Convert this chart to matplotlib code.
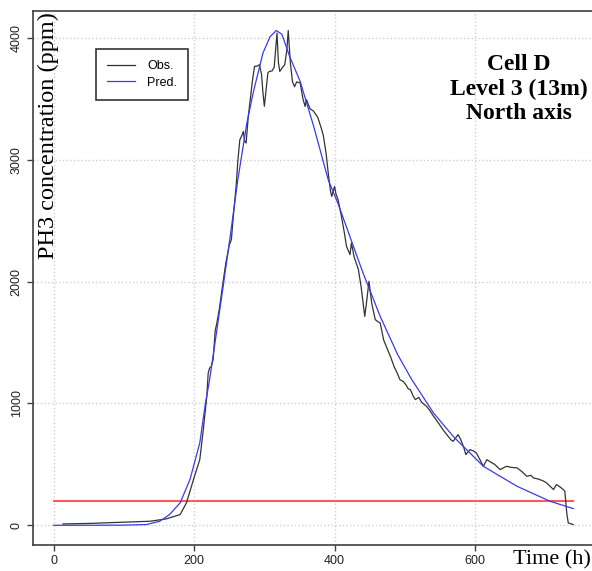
import numpy as np
import matplotlib
matplotlib.use('Agg')
import matplotlib.pyplot as plt

# observed PH3 concentration (ppm) vs time (h)
obs_t = [13, 50, 100, 137, 160, 180, 189, 199, 208, 213, 218, 220, 222, 224, 227, 230,
         232, 236, 240, 245, 250, 253, 256, 260, 262, 265, 268, 270, 272, 274, 277, 280,
         283, 286, 290, 293, 296, 298, 300, 302, 305, 307, 311, 314, 318, 320, 322, 326,
         329, 332, 334, 337, 340, 343, 346, 351, 355, 358, 360, 365, 370, 376, 381, 384,
         388, 391, 394, 396, 400, 402, 405, 410, 414, 417, 420, 422, 424, 428, 434, 438,
         443, 446, 449, 453, 458, 462, 465, 470, 475, 480, 485, 490, 493, 498, 502, 505,
         508, 512, 515, 520, 524, 528, 531, 536, 541, 548, 555, 562, 566, 569, 573, 576,
         580, 584, 587, 590, 593, 598, 602, 607, 612, 617, 622, 628, 636, 640, 645, 652,
         660, 667, 674, 680, 683, 690, 697, 702, 707, 712, 716, 720, 726, 728, 731, 733, 740]
obs_c = [11, 15, 25, 33, 52, 88, 184, 375, 539, 785, 1059, 1250, 1290, 1300, 1360, 1600,
         1650, 1780, 1950, 2150, 2300, 2345, 2550, 2800, 2974, 3164, 3200, 3233, 3150, 3138, 3350, 3500,
         3650, 3767, 3770, 3781, 3700, 3550, 3440, 3550, 3713, 3726, 3730, 3760, 4041, 3800, 3726, 3760,
         3781, 3900, 4062, 3800, 3644, 3600, 3640, 3631, 3500, 3439, 3494, 3420, 3400, 3350, 3261, 3200,
         3050, 2892, 2750, 2700, 2782, 2720, 2673, 2530, 2400, 2290, 2250, 2222, 2318, 2200, 2099, 1950,
         1715, 1850, 2003, 1820, 1688, 1670, 1661, 1520, 1450, 1380, 1300, 1240, 1196, 1180, 1150, 1120,
         1114, 1060, 1032, 1050, 1010, 990, 977, 940, 895, 840, 780, 730, 700, 689, 720, 744,
         700, 640, 580, 600, 621, 610, 594, 540, 484, 539, 520, 500, 457, 470, 484, 475,
         471, 440, 402, 410, 389, 380, 365, 348, 320, 293, 334, 320, 293, 280, 88, 19, 6]

# model prediction
pred_t = [0, 50, 100, 132, 151, 165, 180, 194, 208, 216, 222, 232, 242, 252, 262, 275,
          284, 298, 308, 317, 325, 336, 351, 370, 391, 405, 420, 440, 465, 490, 510, 541,
          569, 612, 660, 707, 740]
pred_c = [0, 0, 1, 6, 33, 88, 184, 375, 676, 999, 1196, 1590, 1990, 2400, 2830, 3300,
          3549, 3877, 4010, 4062, 4030, 3849, 3644, 3280, 2836, 2640, 2400, 2080, 1715, 1400, 1196, 922,
          730, 484, 320, 197, 137]

threshold = 200
thr_t = [0, 740]

xticks = [0, 200, 400, 600]
yticks = [0, 1000, 2000, 3000, 4000]

fig = plt.figure(figsize=(5.92, 5.71), dpi=100)
ax = fig.add_axes([33 / 592, 1 - 545 / 571, 561 / 592, 534 / 571])

ax.plot(thr_t, [threshold] * 2, color='#ff5a5a', lw=1.5, zorder=2)
ax.plot(obs_t, obs_c, color='#333333', lw=0.9, label='Obs.', zorder=3)
ax.plot(pred_t, pred_c, color='#3a3aee', lw=0.9, label='Pred.', zorder=4)

ax.set_xlim(-29.6, 769.6)
ax.set_ylim(-162, 4222)
ax.set_xticks(xticks)
ax.set_yticks(yticks)
ax.grid(True, color='#cfcfcf', ls=':', lw=1)
for s in ax.spines.values():
    s.set_color('#404040')
    s.set_linewidth(1.2)
ax.tick_params(length=4.5, width=1, color='#404040', labelsize=9, labelcolor='#222222', pad=3)
ax.tick_params(axis='y', labelrotation=90)
for lab in ax.get_yticklabels():
    lab.set_va('center')
for lab in ax.get_xticklabels() + ax.get_yticklabels():
    lab.set_fontfamily('Liberation Sans')

leg = ax.legend(loc='upper left', bbox_to_anchor=(96 / 592, 1 - 49 / 571),
                bbox_transform=fig.transFigure, borderaxespad=0, fancybox=False,
                edgecolor='#333333', framealpha=1, handlelength=2.2, handletextpad=1.0,
                borderpad=0.9, labelspacing=0.35,
                prop={'family': 'Liberation Sans', 'size': 9})
leg.get_frame().set_linewidth(1.2)

fig.text(48 / 592, 1 - 136 / 571, 'PH3 concentration (ppm)', rotation=90,
         ha='center', va='center', family='Liberation Serif', size=17.5)
fig.text(552 / 592, 1 - 560 / 571, 'Time (h)', ha='center', va='center',
         family='Liberation Serif', size=16)
ax.text(519 / 592, 1 - 89 / 571, 'Cell D\nLevel 3 (13m)\nNorth axis', transform=fig.transFigure,
        ha='center', va='center', family='Liberation Serif', weight='bold', size=17,
        linespacing=1.2, zorder=5)

fig.savefig('out.png', dpi=100)
